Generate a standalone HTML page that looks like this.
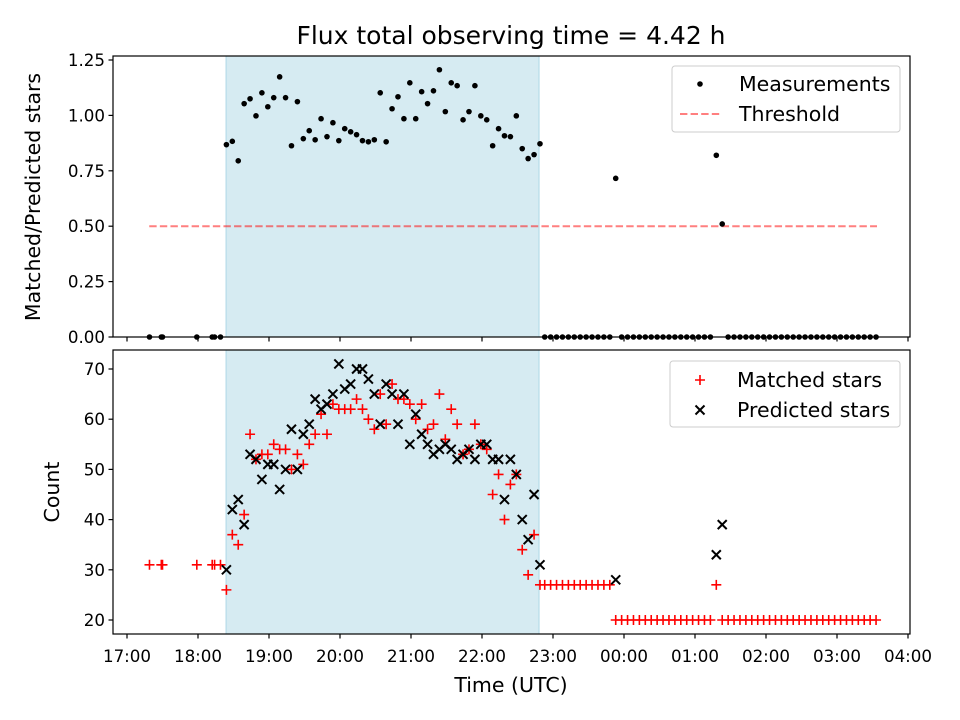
<!DOCTYPE html>
<html><head><meta charset="utf-8"><style>
body{margin:0;background:#fff}
svg{display:block;font-family:"DejaVu Sans","Liberation Sans",sans-serif}
</style></head><body>
<svg id="fig" width="960" height="720" xmlns="http://www.w3.org/2000/svg"></svg>
<script>
// ---- data (times in minutes after 17:00 UTC) ----
const leftTimes=[19,29,30,59,72,74,79];
const leftMatched=[31,31,31,31,31,31,31];
const leftRatio=[0,0,0,0,0,0,0];
const windowTimes=[84,89,94,99,104,109,114,119,124,129,134,139,144,149,154,159,164,169,174,179,184,189,194,199,204,209,214,219,224,229,234,239,244,249,254,259,264,269,274,279,284,289,294,299,304,309,314,319,324,329,334,339,344,349];
const windowRatio=[0.868,0.883,0.795,1.053,1.075,0.998,1.102,1.039,1.080,1.174,1.080,0.863,1.062,0.895,0.931,0.890,0.985,0.904,0.967,0.886,0.940,0.926,0.913,0.886,0.881,0.890,1.102,0.881,1.030,1.084,0.985,1.147,0.985,1.107,1.053,1.111,1.206,1.017,1.147,1.134,0.980,1.017,1.134,0.998,0.980,0.863,0.940,0.908,0.904,0.998,0.850,0.805,0.823,0.872];
const windowMatched=[26,37,35,41,57,52,53,53,55,54,54,50,53,51,55,57,61,57,63,62,62,62,64,62,60,58,65,59,67,64,64,63,60,63,58,59,65,56,62,59,53,54,59,55,54,45,49,40,47,49,34,29,37,27];
const windowPredicted=[30,42,44,39,53,52,48,51,51,46,50,58,50,57,59,64,62,63,65,71,66,67,70,70,68,65,59,67,65,59,65,55,61,57,55,53,54,55,54,52,53,54,52,55,55,52,52,44,52,49,40,36,45,31];
const rightTimes=[353,358,363,368,373,378,383,388,393,398,403,408,413,418,423,428,433,438,443,448,453,458,463,468,473,478,483,488,493,498,503,508,513,518,523,528,533,538,543,548,553,558,563,568,573,578,583,588,593,598,603,608,613,618,623,628,633];
const rightMatched=[27,27,27,27,27,27,27,27,27,27,27,27,20,20,20,20,20,20,20,20,20,20,20,20,20,20,20,20,20,27,20,20,20,20,20,20,20,20,20,20,20,20,20,20,20,20,20,20,20,20,20,20,20,20,20,20,20];
const rightRatio=[0,0,0,0,0,0,0,0,0,0,0,0,0.716,0,0,0,0,0,0,0,0,0,0,0,0,0,0,0,0,0.82,0.51,0,0,0,0,0,0,0,0,0,0,0,0,0,0,0,0,0,0,0,0,0,0,0,0,0,0];
const rightPredTimes=[413,498,503];
const rightPredicted=[28,33,39];
const shadeRange=[83.7,348.2];
const thresholdRange=[18.8,633.8];
const thresholdValue=0.5;
const xTickLabels=["17:00","18:00","19:00","20:00","21:00","22:00","23:00","00:00","01:00","02:00","03:00","04:00"];
const topYTicks=[0,0.25,0.5,0.75,1.0,1.25];
const topYLabels=["0.00","0.25","0.50","0.75","1.00","1.25"];
const botYTicks=[20,30,40,50,60,70];

// ---- scales ----
const L=113,R=910;
const FS=16.7, LS=20.5;
const X=m=>127+m*71/60;
const Yt=v=>337-v*221.6;
const Yb=v=>620-(v-20)*5.02;
const NS="http://www.w3.org/2000/svg";
const svg=document.getElementById('fig');
function el(tag,attrs,parent){const e=document.createElementNS(NS,tag);for(const k in attrs)e.setAttribute(k,attrs[k]);(parent||svg).appendChild(e);return e;}
function txt(s,attrs,parent){const t=el('text',attrs,parent);t.textContent=s;return t;}

const title=txt("Flux total observing time = 4.42 h",{x:511,y:44,'font-size':25,'text-anchor':'middle',fill:'#000'});



function panel(top,bottom,name){
  const g=el('g',{});
  
  
  const sh=el('rect',{x:X(shadeRange[0]),y:top,width:X(shadeRange[1])-X(shadeRange[0]),height:bottom-top,fill:'#add8e6','fill-opacity':0.5,stroke:'#add8e6','stroke-width':1},g);
  
  
  return g;
}
function frame(g,top,bottom){
  el('rect',{x:L,y:top,width:R-L,height:bottom-top,fill:'none',stroke:'#000','stroke-width':1.2},g);
  xTickLabels.forEach((lab,i)=>{
    const x=X(i*60);
    el('line',{x1:x,x2:x,y1:bottom,y2:bottom+4.5,stroke:'#000','stroke-width':1.2},g);
  });
}

// ---- top panel ----
const gt=panel(56,337,'ratio-panel');
const th=el('line',{x1:X(thresholdRange[0]),x2:X(thresholdRange[1]),y1:Yt(thresholdValue),y2:Yt(thresholdValue),stroke:'#ff0000','stroke-opacity':0.5,'stroke-width':2,'stroke-dasharray':'7.4,3.2'},gt);


function dots(ts,vs){ts.forEach((t,i)=>{const c=el('circle',{cx:X(t),cy:Yt(vs[i]),r:2.8,fill:'#000'},gt);
  
  });}
dots(leftTimes,leftRatio);dots(windowTimes,windowRatio);dots(rightTimes,rightRatio);
frame(gt,56,337);
topYTicks.forEach((v,i)=>{const y=Yt(v);el('line',{x1:L-4.5,x2:L,y1:y,y2:y,stroke:'#000','stroke-width':1.2},gt);
  const t=txt(topYLabels[i],{x:L-8,y:y+6,'font-size':FS,'text-anchor':'end'},gt);
  
  });
const yl1=txt("Matched/Predicted stars",{x:0,y:0,'font-size':LS,'text-anchor':'middle',transform:'translate(40,197) rotate(-90)'});



const lg1=el('g',{});


el('rect',{x:672,y:66,width:228,height:66,rx:3,fill:'#fff','fill-opacity':0.8,stroke:'#ccc'},lg1);
el('circle',{cx:700,cy:84,r:2.8,fill:'#000'},lg1);
txt("Measurements",{x:739,y:91,'font-size':LS},lg1);
el('line',{x1:680,x2:720,y1:114,y2:114,stroke:'#ff0000','stroke-opacity':0.5,'stroke-width':2,'stroke-dasharray':'7.4,3.2'},lg1);
txt("Threshold",{x:739,y:121,'font-size':LS},lg1);

// ---- bottom panel ----
const gb=panel(350,634,'count-panel');
function plus(x,y,p){return el('path',{d:`M${x-5},${y}H${x+5}M${x},${y-5}V${y+5}`,stroke:'#ff0000','stroke-width':1.6,fill:'none'},p||gb);}
function cross(x,y,p){return el('path',{d:`M${x-4.5},${y-4.5}L${x+4.5},${y+4.5}M${x-4.5},${y+4.5}L${x+4.5},${y-4.5}`,stroke:'#000','stroke-width':2,fill:'none'},p||gb);}
function plusSeries(ts,vs){ts.forEach((t,i)=>{const m=plus(X(t),Yb(vs[i]));
  
  });}
function crossSeries(ts,vs){ts.forEach((t,i)=>{const m=cross(X(t),Yb(vs[i]));
  
  });}
plusSeries(leftTimes,leftMatched);plusSeries(rightTimes,rightMatched);
plusSeries(windowTimes,windowMatched);
crossSeries(windowTimes,windowPredicted);
crossSeries(rightPredTimes,rightPredicted);
frame(gb,350,634);
botYTicks.forEach(v=>{const y=Yb(v);el('line',{x1:L-4.5,x2:L,y1:y,y2:y,stroke:'#000','stroke-width':1.2},gb);
  const t=txt(String(v),{x:L-8,y:y+6,'font-size':FS,'text-anchor':'end'},gb);
  
  });
xTickLabels.forEach((lab,i)=>{const t=txt(lab,{x:X(i*60),y:662,'font-size':FS,'text-anchor':'middle'},gb);
  
  });
const yl2=txt("Count",{x:0,y:0,'font-size':LS,'text-anchor':'middle',transform:'translate(59,492) rotate(-90)'});


const xl=txt("Time (UTC)",{x:511,y:692,'font-size':LS,'text-anchor':'middle'});



const lg2=el('g',{});


el('rect',{x:670,y:361,width:230,height:66,rx:3,fill:'#fff','fill-opacity':0.8,stroke:'#ccc'},lg2);
plus(700,380,lg2);
txt("Matched stars",{x:737,y:387,'font-size':LS},lg2);
cross(700,410,lg2);
txt("Predicted stars",{x:737,y:417,'font-size':LS},lg2);
</script>
</body></html>
